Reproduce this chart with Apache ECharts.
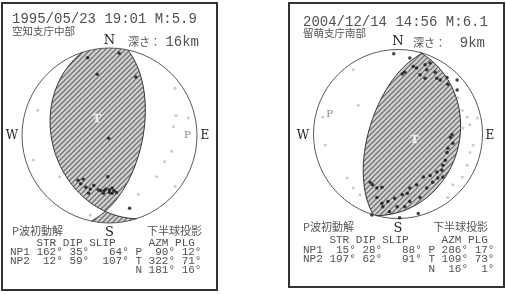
<!DOCTYPE html>
<html>
<head>
<meta charset="utf-8">
<script src="https://cdn.jsdelivr.net/npm/echarts@6/dist/echarts.min.js"></script>
<style>
html,body{margin:0;padding:0;background:#fff;}
#main{width:506px;height:294px;}
</style>
</head>
<body>
<div id="main"></div>
<script>
// ---- event 1 : 1995 空知支庁中部 ----
var eq1Head = ['1995/05/23 19:01 M:5.9', '空知支庁中部', '16km'];
var eq1Planes = [[162, 35, 64], [12, 59, 107]];          // strike, dip, slip
var eq1Axes = [['P', 90, 12], ['T', 322, 71], ['N', 181, 16]]; // azm, plunge
// station polarities, lower hemisphere (x = east, y = north, unit circle)
var eq1Push = [[-0.25, 0.89], [0.11, 0.94], [-0.14, 0.70], [0.30, 0.67], [-0.01, -0.03], [-0.02, -0.47],
  [-0.36, -0.51], [-0.33, -0.55], [-0.30, -0.50], [-0.27, -0.59], [-0.22, -0.61], [-0.24, -0.66],
  [-0.18, -0.57], [-0.13, -0.62], [-0.10, -0.63], [-0.06, -0.63], [-0.04, -0.61], [0.00, -0.62],
  [0.00, -0.65], [0.03, -0.60], [0.05, -0.63], [0.08, -0.65], [0.03, -0.66], [-0.07, -0.66], [0.23, -0.83]];
var eq1Pull = [[0.75, 0.54], [-0.82, 0.29], [0.76, 0.23], [0.73, 0.10], [0.90, 0.20], [-0.87, -0.28],
  [-0.57, -0.47], [0.71, -0.18], [0.63, -0.30], [0.54, -0.47], [0.75, -0.58], [0.33, -0.67], [-0.22, -0.91]];

// ---- event 2 : 2004 留萌支庁南部 ----
var eq2Head = ['2004/12/14 14:56 M:6.1', '留萌支庁南部', '9km'];
var eq2Planes = [[15, 28, 88], [197, 62, 91]];
var eq2Axes = [['P', 286, 17], ['T', 109, 73], ['N', 16, 1]];
var eq2Push = [[-0.05, 0.95], [0.14, 0.90], [0.08, 0.73], [0.18, 0.80], [0.22, 0.78], [0.26, 0.70],
  [0.32, 0.82], [0.38, 0.84], [0.34, 0.76], [0.32, 0.66], [0.44, 0.73], [0.46, 0.66], [0.50, 0.64],
  [0.58, 0.67], [0.59, 0.59], [0.70, 0.64], [0.70, 0.52], [0.05, 0.71],
  [0.64, -0.01], [0.62, -0.04], [0.65, -0.11], [0.59, -0.17], [0.58, -0.22], [0.56, -0.31],
  [0.53, -0.37], [0.52, -0.43], [0.46, -0.45], [0.38, -0.49], [0.30, -0.51], [0.22, -0.60],
  [0.14, -0.64], [0.11, -0.70], [0.05, -0.72], [-0.04, -0.76], [-0.12, -0.80], [-0.19, -0.82],
  [-0.25, -0.75], [-0.33, -0.57], [-0.30, -0.60], [-0.25, -0.64], [-0.19, -0.63],
  [-0.31, -0.96], [0.02, -0.99], [0.24, -0.94], [-0.10, -0.92], [-0.18, -0.86], [-0.01, -0.86],
  [0.08, -0.86], [0.14, -0.80], [0.26, -0.75], [0.34, -0.64], [0.41, -0.57], [0.47, -0.52], [0.53, -0.51]];
var eq2Pull = [[-0.53, 0.76], [-0.47, 0.34], [-0.89, 0.20], [0.76, 0.28], [0.82, 0.20], [0.85, 0.11],
  [0.77, 0.07], [0.71, 0.43], [0.94, 0.19], [-0.86, -0.13], [-0.60, -0.52], [-0.53, -0.64],
  [-0.45, -0.72], [0.65, -0.60], [0.76, -0.51], [0.82, -0.37], [0.85, -0.22], [0.89, -0.13], [0.59, -0.75]];

var RAD = Math.PI / 180;

// equal-area lower hemisphere projection of a line (trend, plunge)
function project(trend, plunge) {
  var r = Math.SQRT2 * Math.sin((90 - plunge) / 2 * RAD);
  return [r * Math.sin(trend * RAD), r * Math.cos(trend * RAD)];
}

// great circle of a nodal plane, from strike azimuth to strike+180
function planeLine(strike, dip) {
  var pts = [];
  for (var t = 0; t <= 180; t += 3) {
    var c = Math.cos(t * RAD), s = Math.sin(t * RAD);
    var n = c * Math.cos(strike * RAD) + s * Math.cos(dip * RAD) * Math.cos((strike + 90) * RAD);
    var e = c * Math.sin(strike * RAD) + s * Math.cos(dip * RAD) * Math.sin((strike + 90) * RAD);
    var d = s * Math.sin(dip * RAD);
    pts.push(project(Math.atan2(e, n) / RAD, Math.asin(Math.min(1, d)) / RAD));
  }
  return pts;
}

// one half of the net cut by a nodal plane
function halfDisk(plane, dipSide) {
  var pts = planeLine(plane[0], plane[1]);
  var a0 = plane[0] + 180;
  for (var k = 3; k < 180; k += 3) {
    pts.push(project(dipSide ? a0 - k : a0 + k, 0));
  }
  return pts;
}

function area(pts) {
  var s = 0;
  for (var i = 0; i < pts.length; i++) {
    var p = pts[i], q = pts[(i + 1) % pts.length];
    s += p[0] * q[1] - q[0] * p[1];
  }
  return s;
}

// compressional quadrants = XOR of two half disks (opposite winding, nonzero fill)
function pushArea(planes) {
  var a = halfDisk(planes[0], true);
  var b = halfDisk(planes[1], false);
  if ((area(a) > 0) === (area(b) > 0)) b = b.slice().reverse();
  return [a, b];
}

function hatch() {
  var c = document.createElement('canvas');
  c.width = 5; c.height = 5;
  var g = c.getContext('2d');
  g.fillStyle = '#d2d2d2';
  g.fillRect(0, 0, 5, 5);
  g.strokeStyle = '#727272';
  g.lineWidth = 1.3;
  g.beginPath();
  g.moveTo(-1, 6); g.lineTo(6, -1);
  g.moveTo(-1, 1); g.lineTo(1, -1);
  g.moveTo(4, 6); g.lineTo(6, 4);
  g.stroke();
  return c;
}
var hatchImg = hatch();

function deg(v, w) {
  var s = v + '°';
  while (s.length < w) s = ' ' + s;
  return s;
}
function tableRows(planes, axes) {
  return [
    '    STR DIP SLIP     AZM PLG',
    'NP1' + deg(planes[0][0], 5) + deg(planes[0][1], 4) + deg(planes[0][2], 6) + ' ' + axes[0][0] + deg(axes[0][1], 5) + deg(axes[0][2], 4),
    'NP2' + deg(planes[1][0], 5) + deg(planes[1][1], 4) + deg(planes[1][2], 6) + ' ' + axes[1][0] + deg(axes[1][1], 5) + deg(axes[1][2], 4),
    '                  ' + ' ' + axes[2][0] + deg(axes[2][1], 5) + deg(axes[2][2], 4)
  ];
}

function panelSeries(i, planes, axes, push, pull) {
  var polys = pushArea(planes);
  var list = [];
  list.push({
    type: 'custom', xAxisIndex: i, yAxisIndex: i, data: [[0, 0]], silent: true,
    renderItem: function (params, api) {
      var d = polys.map(function (poly) {
        return 'M' + poly.map(function (p) {
          var q = api.coord(p);
          return q[0].toFixed(2) + ' ' + q[1].toFixed(2);
        }).join(' L') + ' Z';
      }).join(' ');
      var c = api.coord([0, 0]);
      var r = api.size([1, 0])[0];
      return {
        type: 'group', children: [
          { type: 'path', shape: { pathData: d }, style: { fill: { image: hatchImg, repeat: 'repeat' }, stroke: null } },
          { type: 'circle', shape: { cx: c[0], cy: c[1], r: r }, style: { fill: null, stroke: '#5a5a5a', lineWidth: 1 } }
        ]
      };
    }
  });
  planes.forEach(function (pl) {
    list.push({
      type: 'line', xAxisIndex: i, yAxisIndex: i, data: planeLine(pl[0], pl[1]),
      showSymbol: false, silent: true, lineStyle: { color: '#333', width: 1 }
    });
  });
  list.push({
    type: 'scatter', xAxisIndex: i, yAxisIndex: i, data: pull, symbolSize: 3,
    itemStyle: { color: '#bdbdbd' }, silent: true
  });
  list.push({
    type: 'scatter', xAxisIndex: i, yAxisIndex: i, data: push, symbolSize: 3.5,
    itemStyle: { color: '#111' }, silent: true
  });
  list.push({
    type: 'scatter', xAxisIndex: i, yAxisIndex: i, symbolSize: 0.1, silent: true,
    itemStyle: { color: 'rgba(0,0,0,0)' },
    data: [
      { value: project(axes[0][1], axes[0][2]), name: 'P',
        label: { show: true, position: 'inside', formatter: '{b}', color: '#666', fontSize: 10, fontFamily: 'DejaVu Serif' } },
      { value: project(axes[1][1], axes[1][2]), name: 'T',
        label: { show: true, position: 'inside', formatter: '{b}', color: '#fff', fontSize: 11, fontWeight: 'bold',
          fontFamily: 'DejaVu Serif', textBorderColor: '#c8c8c8', textBorderWidth: 1 } }
    ]
  });
  return list;
}

function txt(x, y, s, font, color, align) {
  return { type: 'text', x: x, y: y, silent: true,
    style: { text: s, font: font, fill: color || '#444', align: align || 'left', verticalAlign: 'middle' } };
}

var MONO = '"Liberation Mono", "DejaVu Sans Mono", monospace';
var CJK = '"Noto Sans CJK JP", sans-serif';
var SERIF = '"DejaVu Serif", serif';

function panelText(box, cx, head, rowsY, ys, planes, axes) {
  var rows = tableRows(planes, axes);
  var els = [
    { type: 'rect', silent: true, shape: box, style: { fill: null, stroke: '#333', lineWidth: 2 } },
    txt(ys.x, ys.title, head[0], '14px ' + MONO, '#505050'),
    txt(ys.x, ys.sub, head[1], '10.5px ' + CJK, '#555'),
    txt(cx, ys.n, 'N', '13px ' + SERIF, '#222', 'center'),
    txt(ys.depthX, ys.n + 1, '深さ：', '11px ' + CJK, '#555'),
    txt(ys.depthR, ys.n + 1, head[2], '14px ' + MONO, '#505050', 'right'),
    txt(ys.wx, ys.we, 'W', '12px ' + SERIF, '#222', 'center'),
    txt(ys.ex, ys.we, 'E', '12px ' + SERIF, '#222', 'center'),
    txt(cx, ys.s, 'S', '13px ' + SERIF, '#222', 'center'),
    txt(ys.x, ys.lab, 'P波初動解', '11px ' + CJK, '#555'),
    txt(ys.lab2, ys.lab, '下半球投影', '11px ' + CJK, '#555')
  ];
  rows.forEach(function (r, k) {
    els.push(txt(ys.tx, rowsY[k], r, '11px ' + MONO, '#505050'));
  });
  return els;
}

var myChart = echarts.init(document.getElementById('main'), null, { renderer: 'canvas' });
var axisCfg = [0, 1].map(function (i) {
  return { gridIndex: i, type: 'value', min: -1, max: 1, show: false };
});
var option = {
  animation: false,
  backgroundColor: '#fff',
  grid: [
    { left: 22, top: 48, width: 175, height: 175 },
    { left: 313.5, top: 49.5, width: 169, height: 169 }
  ],
  xAxis: axisCfg,
  yAxis: axisCfg.map(function (a) { return Object.assign({}, a); }),
  series: panelSeries(0, eq1Planes, eq1Axes, eq1Push, eq1Pull)
    .concat(panelSeries(1, eq2Planes, eq2Axes, eq2Push, eq2Pull)),
  graphic: {
    elements: panelText({ x: 2, y: 3, width: 215, height: 287 }, 109.5, eq1Head, [243, 252, 261, 270.5],
      { x: 12, title: 19, sub: 31, n: 41, depthX: 128, depthR: 199, wx: 12, ex: 205, we: 136, s: 233,
        lab: 231, lab2: 147, tx: 10 }, eq1Planes, eq1Axes)
      .concat(panelText({ x: 289, y: 3, width: 215, height: 284 }, 398, eq2Head, [240.5, 250, 259.5, 269.5],
      { x: 303, title: 22.5, sub: 33, n: 42, depthX: 413, depthR: 485, wx: 303, ex: 490, we: 136, s: 229,
        lab: 227, lab2: 433, tx: 303 }, eq2Planes, eq2Axes))
  }
};
myChart.setOption(option);
</script>
</body>
</html>
